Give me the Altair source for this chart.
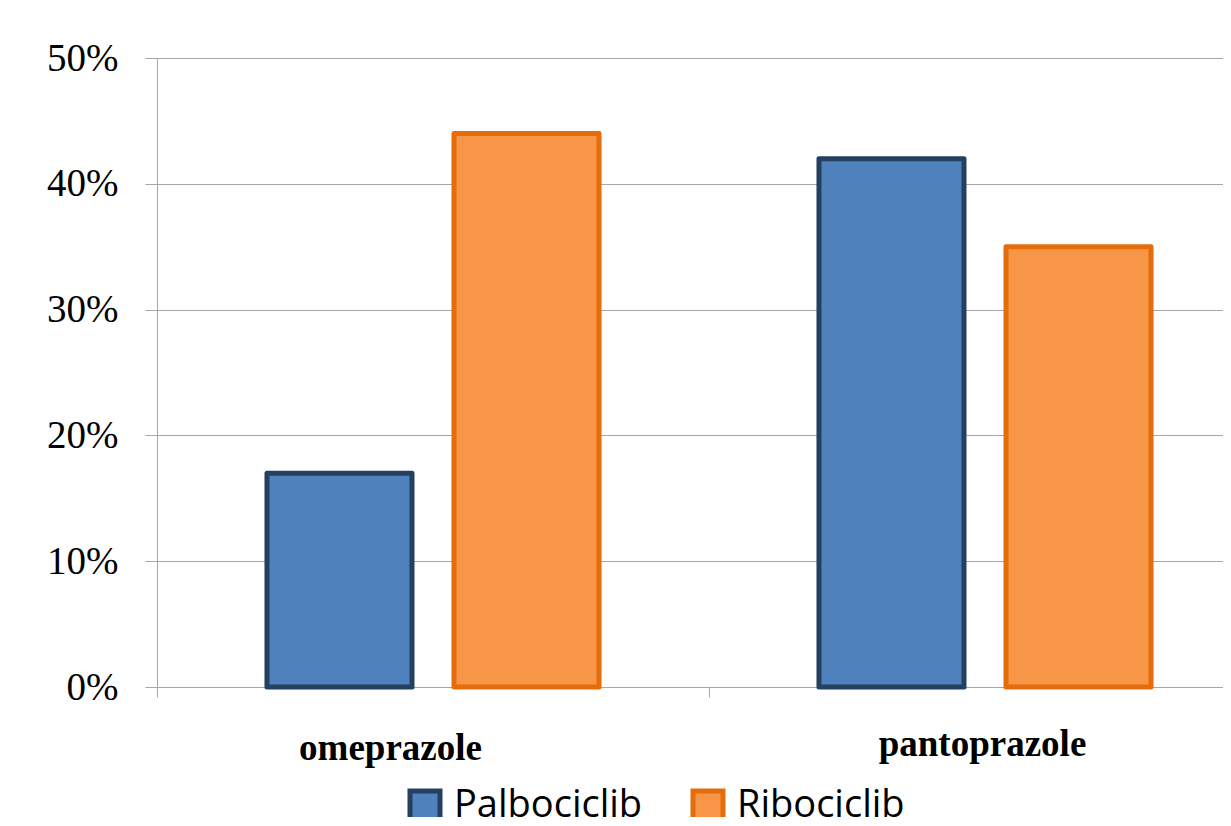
import altair as alt
import pandas as pd

categories = ["omeprazole", "pantoprazole"]
series = ["Palbociclib", "Ribociclib"]
palbociclib = [0.17, 0.42]
ribociclib = [0.44, 0.35]
y_ticks = [0, 0.1, 0.2, 0.3, 0.4, 0.5]

rows = []
for i, c in enumerate(categories):
    rows.append({"drug": c, "series": "Palbociclib", "value": palbociclib[i]})
    rows.append({"drug": c, "series": "Ribociclib", "value": ribociclib[i]})
df = pd.DataFrame(rows)

fills = ["#4F81BD", "#F79646"]
strokes = ["#243F60", "#E46C0A"]
grid = "#A6A6A6"

legend_props = dict(
    title=None, orient="none", legendX=249, legendY=729, direction="horizontal",
    symbolType="square", symbolSize=900, symbolStrokeWidth=5, symbolOpacity=1,
    labelFont="Open Sans", labelFontSize=38, labelColor="black", labelOffset=10,
    labelLimit=0, columnPadding=40,
)

chart = alt.Chart(df).mark_bar(strokeWidth=5, strokeJoin="round", opacity=1).encode(
    x=alt.X("drug:N", sort=categories,
            scale=alt.Scale(range=[0, 1104], paddingInner=0, paddingOuter=0),
            axis=alt.Axis(title=None, labelAngle=0, labelFont="Liberation Serif",
                          labelFontWeight="bold", labelFontSize=37, labelColor="black",
                          labelLimit=0, tickBand="extent", tickSize=10,
                          tickColor=grid, domainColor=grid,
                          labelPadding={"condition": {"test": "datum.value == 'omeprazole'", "value": 33}, "value": 29},
                          labelOffset={"condition": {"test": "datum.value == 'omeprazole'", "value": -43}, "value": -3})),
    xOffset=alt.XOffset("series:N", sort=series,
                        scale=alt.Scale(paddingInner=0.2246, paddingOuter=0.588)),
    y=alt.Y("value:Q", scale=alt.Scale(domain=[0, 0.5]),
            axis=alt.Axis(title=None, format="%", values=y_ticks, grid=True,
                          gridColor=grid, domainColor=grid, tickColor=grid,
                          tickSize=12, labelPadding=27, labelFontSize=39,
                          labelFont="Liberation Serif", labelColor="black")),
    color=alt.Color("series:N", scale=alt.Scale(domain=series, range=fills),
                    legend=alt.Legend(**legend_props)),
    stroke=alt.Stroke("series:N", scale=alt.Scale(domain=series, range=strokes),
                      legend=alt.Legend(**legend_props)),
).properties(
    width=1066, height=629,
    padding={"left": 149, "top": 50, "right": 0, "bottom": 130},
    autosize=alt.AutoSizeParams(type="none"),
).configure_view(stroke=None)

chart.save("out.html", embed_options={"renderer": "svg", "actions": False})
